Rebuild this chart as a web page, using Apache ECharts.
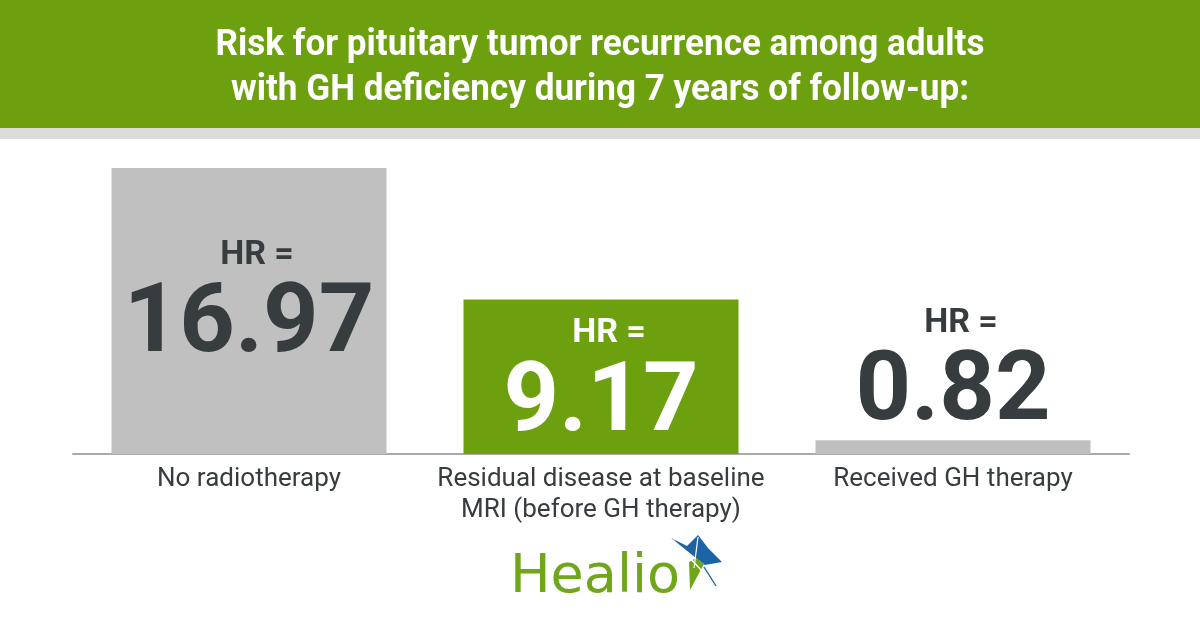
<!DOCTYPE html>
<html><head><meta charset="utf-8">
<script src="https://cdn.jsdelivr.net/npm/echarts@6/dist/echarts.min.js"></script>
<style>html,body{margin:0;padding:0;background:#fff}#c{width:1200px;height:630px}</style>
</head><body><div id="c"></div>
<script>
// ---- data ----
const categories = ['No radiotherapy', 'Residual disease at baseline\nMRI (before GH therapy)', 'Received GH therapy'];
const hrValues = [16.97, 9.17, 0.82];
const titleLines = ['Risk for pituitary tumor recurrence among adults', 'with GH deficiency during 7 years of follow-up:'];
const labelPrefix = 'HR =';
const logoText = 'Healio';

// ---- styles ----
const GREEN = '#6ca00f';
const DARK = '#373c3f';
const BLUE = '#1d64a6';
const barColors = ['#c0c0c0', GREEN, '#c0c0c0'];
const labelColors = [DARK, '#ffffff', DARK];
const labelOffsets = [65, 12, -139];

const chart = echarts.init(document.getElementById('c'), null, {renderer: 'canvas'});

const seriesData = hrValues.map((v, i) => ({
  value: v,
  itemStyle: {color: barColors[i]},
  label: {
    show: true,
    position: ['50%', labelOffsets[i]],
    align: 'center',
    verticalAlign: 'top',
    formatter: p => '{a|' + labelPrefix + '}\n{b|' + p.value.toFixed(2) + '}',
    rich: {
      a: {fontFamily: 'Roboto', fontSize: 34, fontWeight: 'bold', lineHeight: 44, color: labelColors[i], align: 'center', padding: [0, 0, 0, 16]},
      b: {fontFamily: 'Roboto', fontSize: 97, fontWeight: 'bold', lineHeight: 100, color: labelColors[i], align: 'center'}
    }
  }
}));

const option = {
  backgroundColor: '#ffffff',
  animation: false,
  grid: {left: 73, right: 71, top: 117, bottom: 176, containLabel: false},
  xAxis: {
    type: 'category',
    data: categories,
    axisLine: {show: true, lineStyle: {color: '#aaaaaa', width: 2}},
    axisTick: {show: false},
    axisLabel: {interval: 0, fontFamily: 'Roboto', fontSize: 26, color: DARK, lineHeight: 31, margin: 10}
  },
  yAxis: {type: 'value', min: 0, max: 20, show: false},
  series: [{
    type: 'bar',
    data: seriesData,
    barWidth: 275,
    z: 3
  }],
  graphic: [
    {type: 'rect', shape: {x: 0, y: 0, width: 1200, height: 128}, style: {fill: GREEN}, z: 0},
    {type: 'rect', shape: {x: 0, y: 128, width: 1200, height: 11}, style: {fill: '#dcdcdc'}, z: 0},
    {type: 'text', x: 600, y: 46, scaleX: 0.975, z: 5,
      style: {text: titleLines[0], font: 'bold 36px Roboto', fill: '#ffffff', align: 'center', verticalAlign: 'middle'}},
    {type: 'text', x: 600, y: 91, scaleX: 0.975, z: 5,
      style: {text: titleLines[1], font: 'bold 36px Roboto', fill: '#ffffff', align: 'center', verticalAlign: 'middle'}},
    {type: 'text', x: 510, y: 578, z: 5,
      style: {text: logoText, font: '54px "DejaVu Sans"', fill: '#70a61a', align: 'left', verticalAlign: 'middle'}},
    {type: 'polygon', z: 5, shape: {points: [[671,538],[687,546],[698,535],[708,548],[722,562],[705,565],[696,558]]}, style: {fill: BLUE}},
    {type: 'polygon', z: 5, shape: {points: [[696,558],[704,564],[690,590],[689,562]]}, style: {fill: '#70a61a'}},
    {type: 'line', z: 6, shape: {x1: 673, y1: 540, x2: 716, y2: 586}, style: {stroke: '#ffffff', lineWidth: 1.5}},
    {type: 'line', z: 6, shape: {x1: 704, y1: 567, x2: 716, y2: 586}, style: {stroke: BLUE, lineWidth: 1.4}},
    {type: 'line', z: 6, shape: {x1: 698, y1: 537, x2: 694, y2: 568}, style: {stroke: '#ffffff', lineWidth: 1.2}}
  ]
};
chart.setOption(option);
</script></body></html>
